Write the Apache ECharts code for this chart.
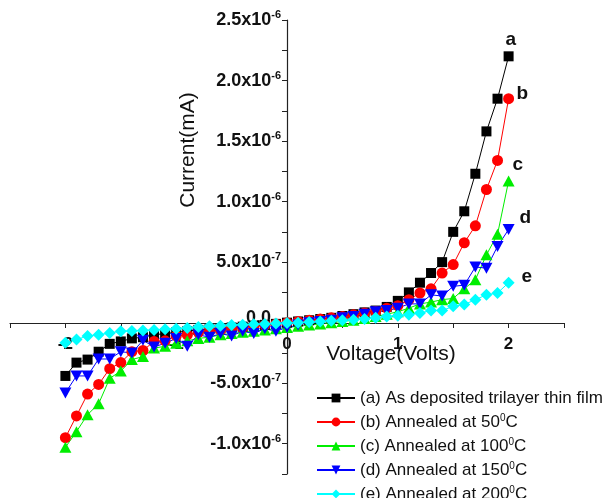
<!DOCTYPE html>
<html>
<head>
<meta charset="utf-8">
<script src="https://cdn.jsdelivr.net/npm/echarts@6/dist/echarts.min.js"></script>
<style>
  html, body { margin: 0; padding: 0; background: #fff; }
  #P1_iv { width: 606px; height: 498px; }
</style>
</head>
<body>
<div id="P1_iv"></div>
<script>
// voltage steps, V
var voltage = [-2.0, -1.9, -1.8, -1.7, -1.6, -1.5, -1.4, -1.3, -1.2, -1.1, -1.0,
  -0.9, -0.8, -0.7, -0.6, -0.5, -0.4, -0.3, -0.2, -0.1, 0.0,
  0.1, 0.2, 0.3, 0.4, 0.5, 0.6, 0.7, 0.8, 0.9, 1.0,
  1.1, 1.2, 1.3, 1.4, 1.5, 1.6, 1.7, 1.8, 1.9, 2.0];

// currents, in units of 1e-6 mA
var curA = [-0.44, -0.33, -0.305, -0.24, -0.175, -0.155, -0.13, -0.12, -0.10, -0.09, -0.08,
  -0.07, -0.06, -0.055, -0.048, -0.04, -0.033, -0.025, -0.018, -0.01, 0.0,
  0.01, 0.02, 0.03, 0.04, 0.055, 0.07, 0.085, 0.10, 0.13, 0.18,
  0.25, 0.33, 0.41, 0.50, 0.75, 0.92, 1.23, 1.58, 1.85, 2.20];
var curB = [-0.95, -0.77, -0.59, -0.51, -0.38, -0.33, -0.24, -0.23, -0.155, -0.15, -0.11,
  -0.10, -0.08, -0.07, -0.06, -0.05, -0.04, -0.03, -0.02, -0.01, 0.0,
  0.01, 0.02, 0.03, 0.04, 0.05, 0.065, 0.08, 0.093, 0.12, 0.14,
  0.19, 0.245, 0.28, 0.41, 0.48, 0.66, 0.80, 1.10, 1.34, 1.85];
var curC = [-1.03, -0.90, -0.76, -0.67, -0.46, -0.40, -0.305, -0.28, -0.21, -0.195, -0.17,
  -0.15, -0.13, -0.12, -0.10, -0.09, -0.08, -0.07, -0.06, -0.05, -0.04,
  -0.03, -0.02, -0.01, 0.0, 0.01, 0.02, 0.035, 0.05, 0.07, 0.09,
  0.12, 0.155, 0.17, 0.19, 0.20, 0.28, 0.355, 0.56, 0.73, 1.17];
var curD = [-0.58, -0.44, -0.44, -0.30, -0.30, -0.24, -0.25, -0.146, -0.20, -0.17, -0.13,
  -0.195, -0.10, -0.12, -0.09, -0.11, -0.07, -0.09, -0.05, -0.07, -0.04,
  -0.02, 0.0, 0.01, 0.02, 0.04, 0.05, 0.07, 0.09, 0.10, 0.12,
  0.155, 0.155, 0.23, 0.22, 0.30, 0.31, 0.46, 0.45, 0.63, 0.77];
var curE = [-0.165, -0.14, -0.11, -0.10, -0.085, -0.07, -0.068, -0.065, -0.06, -0.055, -0.05,
  -0.045, -0.035, -0.03, -0.025, -0.02, -0.017, -0.013, -0.01, -0.006, -0.003,
  0.0, 0.005, 0.01, 0.015, 0.02, 0.025, 0.03, 0.04, 0.05, 0.058,
  0.066, 0.08, 0.10, 0.10, 0.135, 0.15, 0.19, 0.23, 0.245, 0.33];

var seriesNames = ['(a) As deposited trilayer thin film', '(b) Annealed at 50°C',
  '(c) Annealed at 100°C', '(d) Annealed at 150°C', '(e) Annealed at 200°C'];
var curveTags = ['a', 'b', 'c', 'd', 'e'];

var colors = ['#000000', '#ff0000', '#00ee00', '#0000ff', '#00ffff'];
var symbols = ['rect', 'circle', 'triangle', 'triangle', 'diamond'];
var symbolRot = [0, 0, 0, 180, 0];
var symbolSizes = [10, 11, [12, 11], [12, 11], [12, 12]];
var tagOffsets = [[-11, -17], [0, -5], [-4, -16], [3, -12], [5, -6]];

function pairs(ys) {
  return voltage.map(function (v, i) { return [v, ys[i]]; });
}
var currents = [curA, curB, curC, curD, curE];

var series = currents.map(function (ys, k) {
  return {
    name: seriesNames[k],
    type: 'line',
    data: pairs(ys),
    symbol: symbols[k],
    symbolRotate: symbolRot[k],
    symbolSize: symbolSizes[k],
    showAllSymbol: true,
    color: colors[k],
    lineStyle: { width: 1, color: colors[k] },
    itemStyle: { color: colors[k] },
    endLabel: {
      show: true,
      formatter: curveTags[k],
      color: '#111',
      fontFamily: 'Liberation Sans',
      fontWeight: 'bold',
      fontSize: 19,
      offset: tagOffsets[k]
    }
  };
});

function isMult(v, step) {
  return Math.abs(Math.round(v / step) * step - v) < 1e-9;
}

var option = {
    animation: false,
    backgroundColor: '#fff',
    grid: {
        left: 10,
        right: 42,
        top: 20,
        bottom: 24,
        containLabel: false,
        outerBoundsMode: 'none'
    },
    legend: {
        orient: 'vertical',
        left: 311,
        top: 384,
        height: 150,
        itemWidth: 38,
        itemHeight: 11,
        itemGap: 6,
        data: seriesNames,
        formatter: function (name) {
            return name.replace('°C', '{sup|0}C');
        },
        textStyle: {
            fontFamily: 'Liberation Sans',
            fontSize: 17,
            color: '#111',
            lineHeight: 18,
            rich: {
                sup: { fontSize: 10, fontFamily: 'Liberation Sans', color: '#111', verticalAlign: 'top', padding: [0, 0, 8, 0] }
            }
        }
    },
    xAxis: {
        type: 'value',
        min: -2.5,
        max: 2.5,
        interval: 0.5,
        position: 'bottom',
        offset: -151,
        name: 'Voltage(Volts)',
        nameLocation: 'middle',
        nameGap: 21,
        nameMoveOverlap: false,
        nameTextStyle: {
            fontFamily: 'Liberation Sans',
            fontSize: 21,
            color: '#111',
            padding: [0, 0, 0, 208]
        },
        axisLine: { onZero: false, lineStyle: { color: '#222', width: 1.2 } },
        axisTick: { length: 5, lineStyle: { color: '#222' } },
        splitLine: { show: false },
        axisLabel: {
            margin: 13,
            fontFamily: 'Liberation Sans',
            fontWeight: 'bold',
            fontSize: 17,
            color: '#111',
            formatter: function (v) {
                return isMult(v, 1) ? String(Math.round(v)) : '';
            }
        }
    },
    yAxis: {
        type: 'value',
        min: -1.25,
        max: 2.5,
        interval: 0.25,
        position: 'left',
        offset: -277,
        name: 'Current(mA)',
        nameLocation: 'middle',
        nameRotate: 90,
        nameGap: 88,
        nameMoveOverlap: false,
        nameTextStyle: {
            fontFamily: 'Liberation Sans',
            fontSize: 21,
            color: '#111',
            padding: [0, 0, 0, 194]
        },
        axisLine: { onZero: false, lineStyle: { color: '#222', width: 1.2 } },
        axisTick: { length: 5, lineStyle: { color: '#222' } },
        splitLine: { show: false },
        axisLabel: {
            margin: 6,
            fontFamily: 'Liberation Sans',
            fontWeight: 'bold',
            fontSize: 18,
            color: '#111',
            formatter: function (v) {
                if (!isMult(v, 0.5)) return '';
                if (Math.abs(v) < 1e-9) return '{z|0.0}';
                if (Math.abs(v) < 0.99) return '{m|' + (v * 10).toFixed(1) + 'x10}{s|-7}';
                return '{m|' + v.toFixed(1) + 'x10}{s|-6}';
            },
            rich: {
                m: { fontFamily: 'Liberation Sans', fontWeight: 'bold', fontSize: 18, color: '#111' },
                s: { fontFamily: 'Liberation Sans', fontWeight: 'bold', fontSize: 11, color: '#111', verticalAlign: 'top', padding: [0, 0, 10, 0] },
                z: { fontFamily: 'Liberation Sans', fontWeight: 'bold', fontSize: 18, color: '#111', padding: [0, 10, 10, 0] }
            }
        }
    },
    series: series
};
var myChart = echarts.init(document.getElementById('P1_iv'));
myChart.setOption(option);
</script>
</body>
</html>
